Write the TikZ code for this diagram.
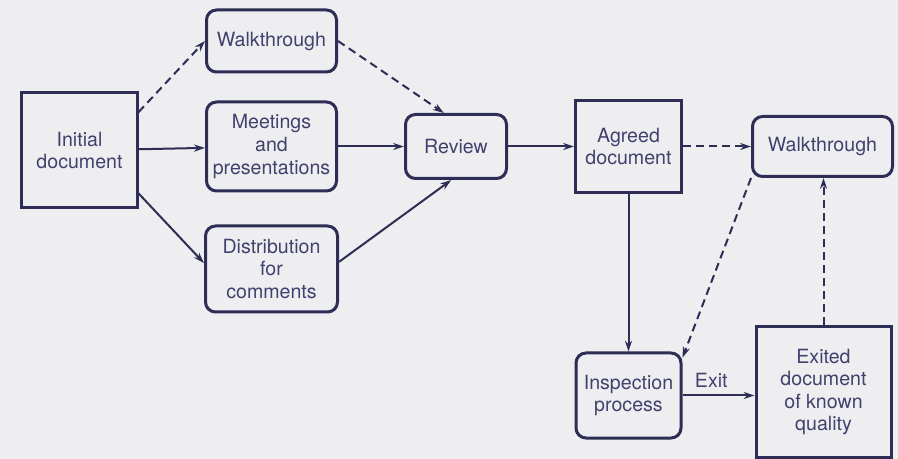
\documentclass[tikz,border=0pt]{standalone}
\usepackage{fontspec}
\setmainfont{TeX Gyre Heros}
\usetikzlibrary{arrows.meta}

\definecolor{inkline}{RGB}{45,45,85}
\definecolor{inktext}{RGB}{65,65,110}
\definecolor{paper}{RGB}{238,238,241}

\tikzset{
  box/.style={draw=inkline, line width=1.5pt, align=center, text=inktext, inner sep=1pt},
  rbox/.style={box, rounded corners=5pt},
  flow/.style={->, draw=inkline, line width=1pt},
  dflow/.style={flow, dash pattern=on 4pt off 2.5pt}
}

\begin{document}
\begin{tikzpicture}[
            > = {Stealth[length=5.5pt,width=3.6pt]}, % arrow head style
            node distance = 96pt, % distance between nodes
            font = \fontsize{9.8}{11.3}\selectfont
        ]

	% paper
	\fill[paper] (-39.75pt,75.25pt) rectangle ++(449pt,-229.5pt);

	\node[box, minimum width=57.5pt, minimum height=57.5pt] (init) {Initial\\document};
	\node[rbox, minimum width=65pt, minimum height=44.5pt] (meet) [right of=init, yshift=2pt] {Meetings\\and\\presentations};
	\node[rbox, minimum width=65pt, minimum height=31pt] (walk1) [above of=meet, node distance=52.75pt] {Walkthrough};
	\node[rbox, minimum width=66pt, minimum height=43pt] (dist) [below of=meet, node distance=61.25pt] {Distribution\\for\\comments};
	\node[rbox, minimum width=50.5pt, minimum height=32pt] (review) [right of=meet, node distance=92.25pt] {Review};
	\node[box, minimum width=53pt, minimum height=46pt] (agreed) [right of=review, node distance=86.25pt] {Agreed\\document};
	\node[rbox, minimum width=70pt, minimum height=30pt] (walk2) [right of=agreed, node distance=97pt] {Walkthrough};
	\node[rbox, minimum width=52.5pt, minimum height=42.5pt] (insp) [below of=agreed, node distance=124.5pt] {Inspection\\process};
	\node[box, minimum width=67.5pt, minimum height=65pt] (exited) [right of=insp, node distance=97.5pt, yshift=1.75pt] {Exited\\document\\of known\\quality};

	\draw[dflow] (init.33) -- (walk1.west);
	\draw[flow] (init) -- (meet);
	\draw[flow] (init.-36) -- (dist.175);
	\draw[dflow] (walk1.east) -- (review.110);
	\draw[flow] (meet) -- (review);
	\draw[flow] (dist.6) -- (review.262);
	\draw[flow] (review) -- (agreed);
	\draw[dflow] (agreed) -- (walk2);
	\draw[flow] (agreed) -- (insp);
	\draw[dflow] (walk2.south west) -- (insp.35);
	\draw[flow] (insp.east) -- node[above, pos=0.4, text=inktext] {Exit} (insp.east -| exited.west);
	\draw[dflow] (exited.north) -- (exited.north |- walk2.south);

\end{tikzpicture}
\end{document}
